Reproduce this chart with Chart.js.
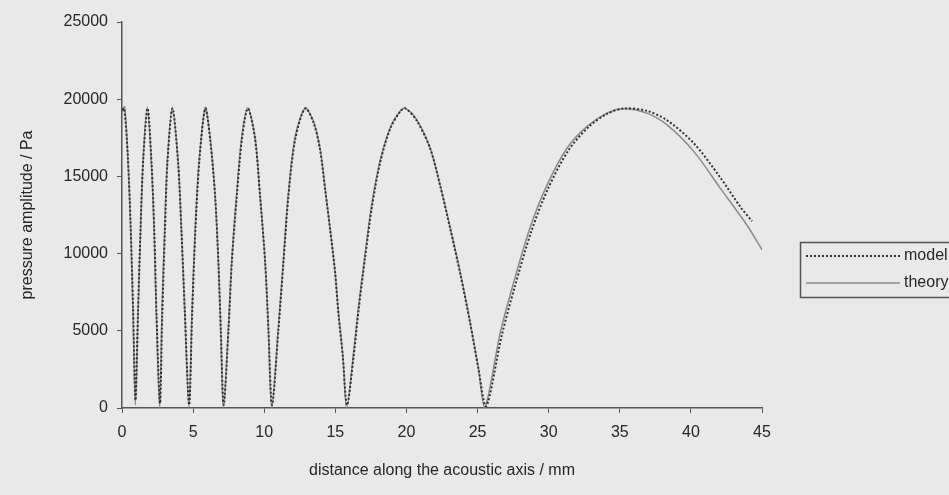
<!DOCTYPE html>
<html>
<head>
<meta charset="utf-8">
<script src="https://cdn.jsdelivr.net/npm/chart.js@4.4.1/dist/chart.umd.min.js"></script>
<style>
  html, body { margin: 0; padding: 0; background: #e9e9e9; }
  #wrap { width: 949px; height: 495px; }
</style>
</head>
<body>
<div id="wrap"><canvas id="pressureChart" width="949" height="495"></canvas></div>
<script>
// values (x in mm, y in Pa)
const theoryX = [0, 0.19, 0.42, 0.61, 0.77, 0.94, 1.13, 1.31, 1.48, 1.78, 2.06, 2.25, 2.41, 2.65, 2.81, 3.0, 3.19, 3.54,
  3.94, 4.17, 4.41, 4.71, 4.92, 5.15, 5.42, 5.85, 6.19, 6.54, 6.77, 6.94, 7.13, 7.48, 7.71, 8.06, 8.42, 8.84,
  9.35, 9.7, 10.06, 10.29, 10.53, 10.99, 11.34, 11.69, 12.17, 12.87, 13.45, 13.92, 14.28, 14.63, 14.98, 15.21, 15.52, 15.8,
  16.27, 16.62, 17.09, 17.56, 18.14, 18.85, 19.55, 19.9, 20.72, 21.66, 22.36, 23.07, 23.77, 24.47, 25.06, 25.5,
  26.6, 27.5, 28.7, 29.9, 31.3, 32.7, 34.1, 35.25, 36.9, 38.3, 40.2, 42.05, 43.9, 45];
const theoryY = [19200, 19500, 16000, 11650, 6260, 200, 6260, 11650, 16000, 19500, 16000, 11650, 6260, 0, 6260, 11650, 16000, 19450,
  16000, 11650, 6260, 0, 6260, 11650, 16000, 19450, 17550, 13830, 9550, 5170, 0, 5170, 9490, 13830, 17550, 19450,
  17550, 13830, 9490, 5170, 0, 5170, 9490, 13830, 17550, 19420, 18600, 16850, 14250, 11650, 8850, 6260, 3460, 0,
  3460, 6490, 9940, 13190, 15990, 18140, 19220, 19420, 18680, 16850, 14480, 11720, 8840, 5600, 2570, 0,
  4900, 8000, 11700, 14470, 16840, 18240, 19100, 19380, 19100, 18350, 16620, 14260, 11900, 10250];

const modelX = [0, 0.15, 0.4, 0.6, 0.78, 0.95, 1.12, 1.3, 1.5, 1.8, 2.08, 2.27, 2.43, 2.67, 2.83, 3.02, 3.2, 3.55,
  3.95, 4.18, 4.42, 4.72, 4.93, 5.16, 5.43, 5.86, 6.2, 6.55, 6.78, 6.95, 7.15, 7.49, 7.72, 8.07, 8.43, 8.85,
  9.36, 9.71, 10.07, 10.3, 10.55, 11.0, 11.35, 11.7, 12.18, 12.88, 13.46, 13.93, 14.29, 14.64, 14.99, 15.22, 15.53, 15.82,
  16.28, 16.63, 17.1, 17.57, 18.15, 18.86, 19.56, 19.92, 20.73, 21.67, 22.37, 23.08, 23.78, 24.48, 25.07, 25.6,
  26.7, 27.6, 28.8, 30.0, 31.4, 32.8, 34.1, 35.3, 36.9, 38.3, 40.2, 42.05, 43.5, 44.3];
const modelY = [19300, 19400, 16500, 12000, 6500, 500, 6000, 11500, 16200, 19400, 15800, 11500, 6000, 300, 6000, 11500, 16000, 19400,
  15800, 11500, 6200, 200, 6000, 11500, 15900, 19400, 17400, 13700, 9400, 5000, 200, 5100, 9400, 13700, 17400, 19400,
  17400, 13700, 9400, 5000, 200, 5100, 9400, 13700, 17400, 19400, 18500, 16700, 14100, 11500, 8700, 6100, 3300, 200,
  3300, 6300, 9800, 13000, 15900, 18100, 19200, 19400, 18600, 16800, 14400, 11600, 8700, 5500, 2500, 100,
  4700, 7800, 11500, 14300, 16700, 18200, 19050, 19400, 19250, 18650, 17150, 14950, 13000, 12100];

const xTicks = [0, 5, 10, 15, 20, 25, 30, 35, 40, 45];
const yTicks = [0, 5000, 10000, 15000, 20000, 25000];

const FONT = 'Liberation Sans, Arial, sans-serif';
const TEXT = '#262626';

function toPoints(xs, ys) {
  return xs.map((x, i) => ({ x: x, y: ys[i] }));
}

// legend drawn as a boxed key to the right of the plot
const boxLegend = {
  id: 'boxLegend',
  afterDraw(chart) {
    const c = chart.ctx;
    c.save();
    c.strokeStyle = '#555';
    c.lineWidth = 1.5;
    c.strokeRect(800.5, 242.5, 152, 55);
    chart.data.datasets.forEach((ds, i) => {
      const y = 256 + i * 27;
      c.beginPath();
      c.setLineDash(ds.borderDash || []);
      c.strokeStyle = ds.borderColor;
      c.lineWidth = ds.borderWidth;
      c.moveTo(806, y);
      c.lineTo(900, y);
      c.stroke();
      c.setLineDash([]);
      c.fillStyle = TEXT;
      c.font = '16px ' + FONT;
      c.textBaseline = 'middle';
      c.fillText(ds.label, 904, y);
    });
    c.restore();
  }
};

new Chart(document.getElementById('pressureChart'), {
  type: 'scatter',
  data: {
    datasets: [{
      label: 'model',
      data: toPoints(modelX, modelY),
      showLine: true,
      borderColor: '#303030',
      borderWidth: 2,
      borderDash: [2, 2],
      pointRadius: 0,
      tension: 0.3
    }, {
      label: 'theory',
      data: toPoints(theoryX, theoryY),
      showLine: true,
      borderColor: '#8a8a8a',
      borderWidth: 1.5,
      pointRadius: 0,
      tension: 0.3
    }]
  },
  options: {
    responsive: false,
    animation: false,
    layout: { padding: { top: 22, right: 187, left: 0, bottom: 0 } },
    plugins: { legend: { display: false }, tooltip: { enabled: false } },
    scales: {
      x: {
        type: 'linear',
        min: 0,
        max: 45,
        afterFit: (s) => { s.height = 87; },
        afterBuildTicks: (s) => { s.ticks = xTicks.map(v => ({ value: v })); },
        grid: { drawOnChartArea: false, tickLength: 5, color: '#555' },
        border: { color: '#555', width: 1.5 },
        ticks: { color: TEXT, padding: 10, font: { family: FONT, size: 16 }, callback: (v) => String(v) },
        title: { display: true, text: 'distance along the acoustic axis / mm', color: TEXT,
                 font: { family: FONT, size: 16 }, padding: { top: 0, bottom: 15 } }
      },
      y: {
        min: 0,
        max: 25000,
        afterFit: (s) => { s.width = 122; },
        afterBuildTicks: (s) => { s.ticks = yTicks.map(v => ({ value: v })); },
        grid: { drawOnChartArea: false, tickLength: 5, color: '#555' },
        border: { color: '#555', width: 1.5 },
        ticks: { color: TEXT, padding: 9, font: { family: FONT, size: 16 }, callback: (v) => String(v) },
        title: { display: true, text: 'pressure amplitude / Pa', color: TEXT,
                 font: { family: FONT, size: 16 }, padding: { top: 18, bottom: 0 } }
      }
    }
  },
  plugins: [boxLegend]
});
</script>
</body>
</html>
